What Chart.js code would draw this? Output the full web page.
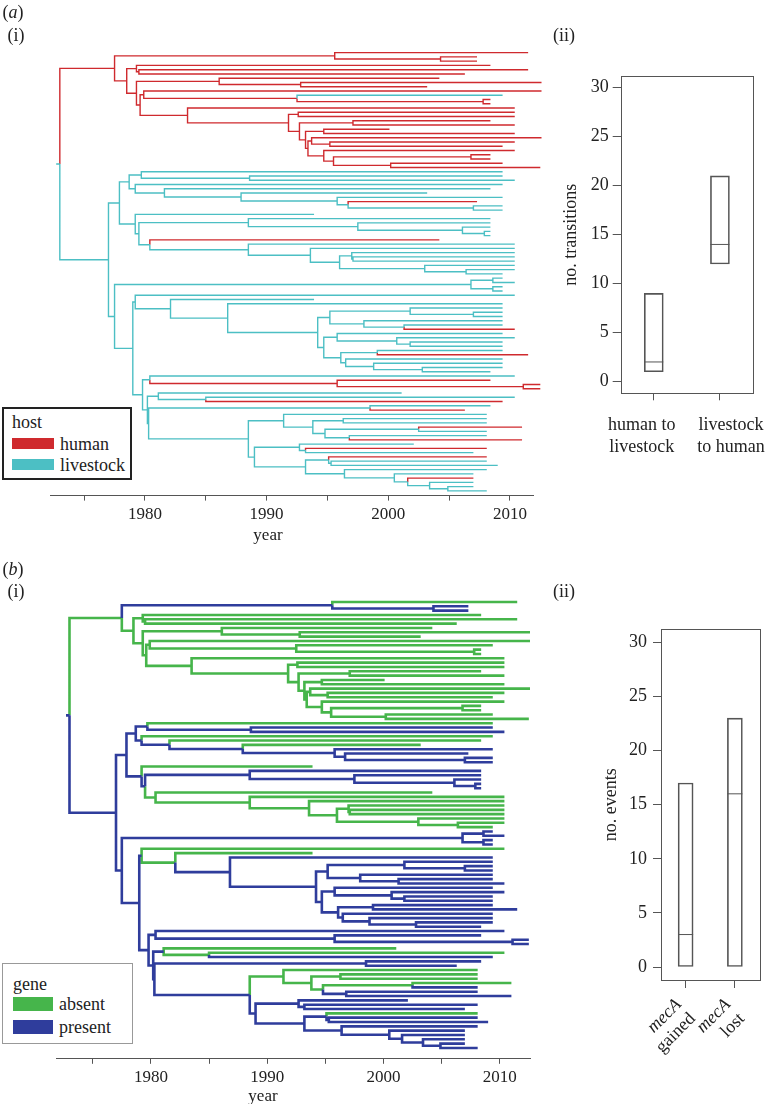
<!DOCTYPE html>
<html>
<head>
<meta charset="utf-8">
<script src="https://cdn.jsdelivr.net/npm/chart.js@4.4.1/dist/chart.umd.min.js"></script>
<style>
  body { margin: 0; background: #fff; }
  #page { position: relative; width: 768px; height: 1104px; overflow: hidden; font-family: "Liberation Serif", serif; color: #222; }
  canvas { position: absolute; }
  .lab { position: absolute; font-size: 18px; line-height: 1; white-space: nowrap; transform: translate(-50%, -50%); }
  .legend { position: absolute; box-sizing: border-box; background: #fff; font-size: 18px; }
  .legend div { position: absolute; white-space: nowrap; line-height: 1; }
  .legend span { position: absolute; }
</style>
</head>
<body>
<div id="page">
  <canvas id="treeA" width="560" height="540" style="left:0;top:0"></canvas>
  <canvas id="boxA" width="208" height="430" style="left:560px;top:40px"></canvas>
  <canvas id="treeB" width="560" height="549" style="left:0;top:555px"></canvas>
  <canvas id="boxB" width="208" height="504" style="left:560px;top:600px"></canvas>

  <div class="lab" style="left:13px;top:12px">(<i>a</i>)</div>
  <div class="lab" style="left:16px;top:35px">(i)</div>
  <div class="lab" style="left:564px;top:35px">(ii)</div>
  <div class="lab" style="left:268px;top:534px;font-size:17px">year</div>

  <div class="lab" style="left:13px;top:569px">(<i>b</i>)</div>
  <div class="lab" style="left:16px;top:591px">(i)</div>
  <div class="lab" style="left:564px;top:591px">(ii)</div>
  <div class="lab" style="left:263px;top:1095px;font-size:17px">year</div>

  <div id="legA" class="legend" style="left:2px;top:407px;width:130px;height:73px;border:2px solid #222"></div>
  <div id="legB" class="legend" style="left:2px;top:963px;width:131px;height:81px;border:1px solid #999"></div>
</div>
<script>
// tree: tips top to bottom, end year of each tip
const tipYears = [
  2011.5, 2007.3, 2007.3, 2008.4, 2011.5, 2006.3, 2004.2, 2012.6, 2003.2, 2012.6,
  2009.4, 2008.4, 2008.4, 2010.4, 2010.4, 2010.4, 2008.4, 2010.4, 2000.1, 2010.4,
  2012.6, 2010.4, 2009.4, 2010.4, 2008.4, 2008.4, 2009.4, 2012.5,
  2009.4, 2009.4, 2010.4, 2009.4, 2008.4, 2003.2, 2009.4, 2007.3, 2009.4, 2009.4,
  1993.9, 2008.4, 2008.4, 2008.4, 2008.4, 2008.4, 2004.2, 2010.4, 2010.4, 2010.4,
  2010.4, 2010.4, 2010.4, 2010.4, 2009.4, 2009.4, 2010.4, 2009.4, 2009.4, 2010.4,
  1993.9, 2009.4, 2009.4, 2009.4, 2009.4, 2009.4, 2009.4, 2010.4, 2009.4, 2010.4,
  2009.4, 2009.4, 2009.4, 2011.5, 2009.4, 2009.4, 2009.4, 2008.4, 2010.4, 2008.4,
  2012.5, 2012.5, 2001.1, 2010.4, 2009.4, 2008.4, 2006.3, 2008.1, 2008.1, 2008.1,
  2011.0, 2008.1, 2008.1, 2011.0, 2002.1, 2008.1, 2007.0, 2008.1, 2008.1, 2009.0,
  2008.1, 2007.0, 2007.0, 2007.0, 2007.0, 2008.1,
]
// year of the common ancestor of tip i and tip i+1
const splitYears = [
  1995.6, 2004.3, 1977.5, 1979.3, 1979.5, 1978.5, 1986.1, 1992.8, 1979.3, 1979.9,
  1992.5, 2007.8, 1979.6, 1983.5, 1992.6, 1991.8, 1997.1, 1992.7, 1994.7, 1993.2,
  1993.7, 1995.2, 1993.4, 1994.7, 2006.8, 1995.5, 2000.2,
  1973.0,
  1979.7, 1988.6, 1978.7, 1979.2, 1981.6, 1987.9, 1995.8, 1996.7, 2007.0, 1977.9,
  1979.2, 1988.5, 1997.5, 2006.1, 2007.9, 1979.5, 1980.4, 1988.5, 1993.6, 1997.0,
  1997.1, 1996.0, 2003.0, 2006.4, 1977.0, 2008.6, 2006.8, 2008.6, 1977.5, 1979.2,
  1982.1, 1986.8, 2001.8, 2007.0, 1995.2, 1998.0, 2001.3, 1994.2, 1995.8, 2000.7,
  2001.8, 1994.7, 1999.1, 1996.1, 1996.5, 1998.8, 2002.8, 1979.0, 1980.4, 1995.8,
  2011.1, 1979.8, 1981.1, 1985.0, 1980.2, 1998.5, 1980.3, 1991.4, 1996.3, 1993.8,
  2002.5, 1994.8, 1996.8, 1988.5, 1992.7, 1993.2, 1989.0, 1995.1, 1995.3, 1993.2,
  1996.4, 2000.5, 2001.6, 2003.4, 2004.9,
]
const rootStartYear = 1972.7

// host state on each branch: h = human, l = livestock
const tipHost = Array.from(
  'hhhhhhhhhh' + 'lhhhhhhhhh' + 'hhhhhhhh' +
  'lllllllhll' + 'llllllhlll' + 'llllllllll' + 'lllllllhll' + 'lllhlllllh' +
  'hhllhlhlll' + 'hllhlhlhll' + 'llhlll')
const nodeHost = Array.from(
  'hhhhhhhhhh' + 'hhhhhhhhhh' + 'hhhhhhh' + 'l' +
  'llllllllll' + 'llllllllll' + 'llllllllll' + 'llllllllll' + 'lllllllllh' +
  'hlllllllll' + 'llllllllll' + 'lllll')
// mecA state on each branch: a = absent, p = present
const tipGene = Array.from(
  'appaaaaaaa' + 'aaaaaaaaaa' + 'aaaaaaaa' +
  'appaaapppp' + 'apppppaaaa' + 'aaaaappppa' + 'appppppppp' + 'pppppppppp' +
  'ppaapppaaa' + 'appppppapp' + 'pppppp')
const nodeGene = Array.from(
  'ppaaaaaaaa' + 'aaaaaaaaaa' + 'aaaaaaa' + 'p' +
  'pppppppppp' + 'ppppppaaaa' + 'aaaapppppp' + 'appppppppp' + 'pppppppppp' +
  'pppapppaaa' + 'aapppppppp' + 'ppppp')

const hostNames = ['human', 'livestock']
const hostColors = { h: '#cf2a2e', l: '#4cbfc4' }
const geneNames = ['absent', 'present']
const geneColors = { a: '#46b54b', p: '#2f3d9c' }

// box plots
const transitionCats = [['human to', 'livestock'], ['livestock', 'to human']]
const transitionLow = [1, 12]
const transitionMedian = [2, 14]
const transitionHigh = [9, 21]
const eventCats = [['mecA', 'gained'], ['mecA', 'lost']]
const eventLow = [0, 0]
const eventMedian = [3, 16]
const eventHigh = [17, 23]

Chart.defaults.font.family = '"Liberation Serif", serif'
Chart.defaults.color = '#222'

function treeSegments(tipCol, nodeCol) {
  function build(i, j) {
    if (i === j) return { year: tipYears[i], y: i, col: tipCol[i] }
    let k = i
    for (let m = i; m < j; m++) if (splitYears[m] < splitYears[k]) k = m
    const a = build(i, k)
    const b = build(k + 1, j)
    return { year: splitYears[k], y: (a.y + b.y) / 2, col: nodeCol[k], kids: [a, b] }
  }
  const root = build(0, tipYears.length - 1)
  const segs = {}
  const add = (col, pts) => {
    if (!segs[col]) segs[col] = []
    segs[col].push(...pts, { x: NaN, y: NaN })
  }
  add(root.col, [{ x: rootStartYear, y: root.y }, { x: root.year, y: root.y }])
  const walk = (n) => {
    if (!n.kids) return
    n.kids.forEach((c) => {
      add(c.col, [{ x: n.year, y: n.y }, { x: n.year, y: c.y }, { x: c.year, y: c.y }])
      walk(c)
    })
  }
  walk(root)
  return segs
}

function drawTree(id, tipCol, nodeCol, colors, opt) {
  const segs = treeSegments(tipCol, nodeCol)
  new Chart(document.getElementById(id), {
    type: 'scatter',
    data: {
      datasets: Object.keys(segs).map((k) => ({
        data: segs[k],
        showLine: true,
        spanGaps: false,
        borderColor: colors[k],
        borderWidth: opt.lineWidth,
        borderJoinStyle: 'miter',
        pointRadius: 0,
        clip: false,
      })),
    },
    options: {
      responsive: false,
      animation: false,
      events: [],
      layout: { padding: opt.padding },
      plugins: { legend: { display: false }, tooltip: { enabled: false } },
      scales: {
        x: {
          type: 'linear',
          min: opt.xMin,
          max: opt.xMax,
          border: { display: true, color: '#555', width: 1 },
          grid: { drawOnChartArea: false, tickLength: 5, color: '#555' },
          ticks: {
            stepSize: 5,
            includeBounds: false,
            autoSkip: false,
            maxRotation: 0,
            padding: 4,
            color: '#222',
            font: { size: 17 },
            callback: (v) => (v % 10 === 0 ? String(v) : ''),
          },
          afterFit: (s) => { s.height = 40 },
        },
        y: { type: 'linear', display: false, reverse: true, min: opt.yMin, max: opt.yMax },
      },
    },
  })
}

drawTree('treeA', tipHost, nodeHost, hostColors, {
  lineWidth: 1.4, xMin: 1972.25, xMax: 2011.9, yMin: -1.8, yMax: 104.1,
  padding: { left: 50.7, right: 27, top: 45, bottom: 4.4 },
})
drawTree('treeB', tipGene, nodeGene, geneColors, {
  lineWidth: 2.6, xMin: 1971.9, xMax: 2012.6, yMin: -1.5, yMax: 105.5,
  padding: { left: 56.7, right: 30, top: 40.5, bottom: 5.2 },
})

const frame = {
  id: 'frame',
  afterDraw(chart) {
    const { ctx, chartArea: a } = chart
    ctx.save()
    ctx.strokeStyle = '#555'
    ctx.lineWidth = 1
    ctx.strokeRect(Math.round(a.left) + 0.5, Math.round(a.top) + 0.5, Math.round(a.width), Math.round(a.height))
    ctx.restore()
  },
}

// two-line category labels under the box plots
function catLabels(cats, style) {
  return {
    id: 'catLabels',
    afterDraw(chart) {
      const { ctx, chartArea: a } = chart
      const x = chart.scales.x
      cats.forEach((lines, i) => {
        ctx.save()
        ctx.fillStyle = '#222'
        ctx.textBaseline = 'middle'
        if (style.rotated) {
          ctx.translate(x.getPixelForValue(i) - 7, a.bottom + 22)
          ctx.rotate(-Math.PI / 4)
          ctx.textAlign = 'right'
          ctx.font = 'italic 18px "Liberation Serif"'
          ctx.fillText(lines[0], 0, 0)
          ctx.font = '18px "Liberation Serif"'
          ctx.fillText(lines[1], 0, 20)
        } else {
          ctx.textAlign = 'center'
          ctx.font = '18px "Liberation Serif"'
          const cx = x.getPixelForValue(i) + style.shift[i]
          ctx.fillText(lines[0], cx, a.bottom + 32)
          ctx.fillText(lines[1], cx, a.bottom + 54)
        }
        ctx.restore()
      })
    },
  }
}

function drawBox(id, cats, low, med, high, o) {
  new Chart(document.getElementById(id), {
    type: 'bar',
    data: {
      labels: cats,
      datasets: [
        {
          data: low.map((l, i) => [l, high[i]]),
          backgroundColor: 'rgba(255,255,255,0)',
          borderColor: '#555',
          borderWidth: 1,
          borderSkipped: false,
          barThickness: o.boxWidth,
        },
        {
          type: 'line',
          data: med,
          showLine: false,
          pointStyle: 'line',
          pointRadius: o.boxWidth / 2,
          pointBorderColor: '#555',
          pointBorderWidth: 1,
        },
      ],
    },
    options: {
      responsive: false,
      animation: false,
      events: [],
      layout: { padding: o.padding },
      plugins: { legend: { display: false }, tooltip: { enabled: false } },
      scales: {
        x: {
          border: { display: false },
          grid: { drawOnChartArea: false, offset: false, tickLength: o.xTick, color: '#555' },
          ticks: { display: false },
          afterFit: (s) => { s.height = o.xHeight },
        },
        y: {
          min: -1.2,
          max: 31.2,
          border: { display: false },
          grid: { drawOnChartArea: false, tickLength: 8, color: '#555' },
          ticks: { stepSize: 5, includeBounds: false, padding: o.yPad, font: { size: 18 }, color: '#222' },
          title: { display: true, text: o.title, font: { size: 18 }, padding: { top: 0, bottom: 0 } },
          afterFit: (s) => { s.width = o.yWidth },
        },
      },
    },
    plugins: [frame, catLabels(cats, o.labels)],
  })
}

drawBox('boxA', transitionCats, transitionLow, transitionMedian, transitionHigh, {
  boxWidth: 19, xTick: 7, xHeight: 60, yWidth: 60.7, yPad: 4,
  title: 'no. transitions', padding: { left: 0, right: 15, top: 36, bottom: 16.7 },
  labels: { rotated: false, shift: [-12, 11] },
})
drawBox('boxB', eventCats, eventLow, eventMedian, eventHigh, {
  boxWidth: 15, xTick: 8, xHeight: 100, yWidth: 61, yPad: 6,
  title: 'no. events', padding: { left: 40, right: 1.3, top: 29.3, bottom: 24 },
  labels: { rotated: true },
})

function legend(id, title, names, codes, colors, sw) {
  const box = document.getElementById(id)
  const t = document.createElement('div')
  t.textContent = title
  t.style.left = sw.x + 'px'
  t.style.top = sw.titleY + 'px'
  box.appendChild(t)
  names.forEach((n, i) => {
    const s = document.createElement('span')
    s.style.cssText = `left:${sw.x}px;top:${sw.y + i * sw.gap}px;width:${sw.w}px;height:${sw.h}px;background:${colors[codes[i]]}`
    box.appendChild(s)
    const d = document.createElement('div')
    d.textContent = n
    d.style.left = sw.x + sw.w + 6 + 'px'
    d.style.top = sw.y + i * sw.gap + sw.h / 2 - 9 + 'px'
    box.appendChild(d)
  })
}
legend('legA', 'host', hostNames, ['h', 'l'], hostColors, { x: 8, titleY: 4, y: 29, gap: 21, w: 42, h: 11 })
legend('legB', 'gene', geneNames, ['a', 'p'], geneColors, { x: 10, titleY: 11, y: 33, gap: 22.5, w: 40, h: 14 })
</script>
</body>
</html>
